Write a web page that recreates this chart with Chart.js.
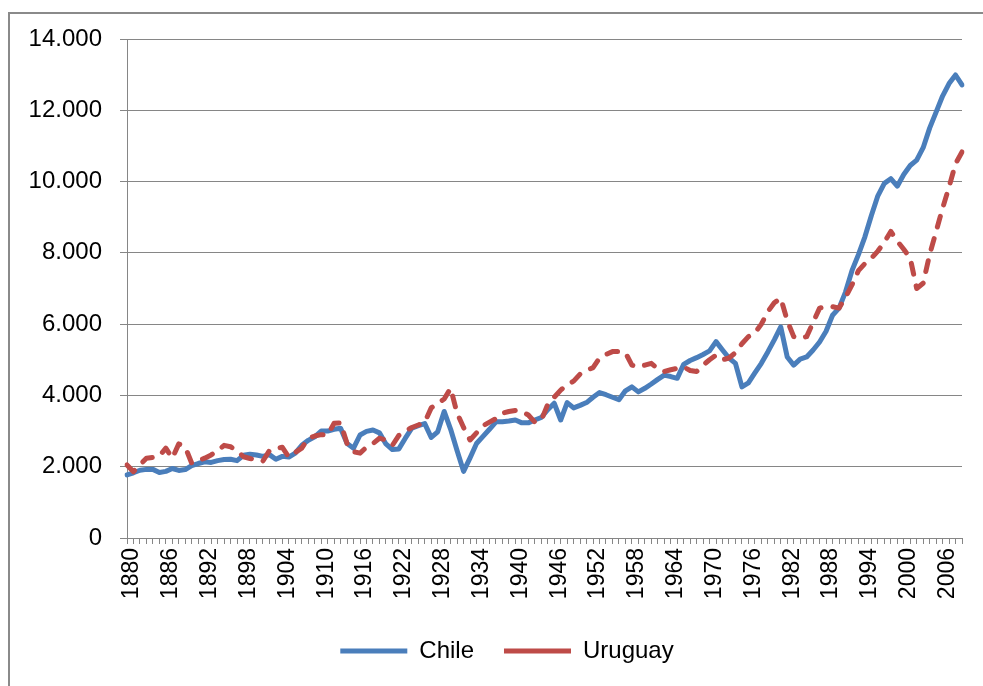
<!DOCTYPE html>
<html>
<head>
<meta charset="utf-8">
<script src="https://cdn.jsdelivr.net/npm/chart.js@4"></script>
<style>
  html, body { margin: 0; padding: 0; background: #fff; overflow: hidden; }
  #wrap { position: relative; width: 983px; height: 686px; }
  #frame { position: absolute; left: 8px; top: 12px; width: 1000px; height: 700px;
           border-left: 2px solid #8a8a8a; border-top: 2px solid #8a8a8a; }
  #chart { position: absolute; left: 0; top: 0; }
</style>
</head>
<body>
<div id="wrap">
  <div id="frame"></div>
  <canvas id="chart" width="983" height="686"></canvas>
</div>
<script>
// years 1880 - 2009
const years = [];
for (let y = 1880; y <= 2009; y++) years.push(String(y));

const chile = [
  1770, 1830, 1900, 1925, 1925, 1840, 1870, 1950, 1895, 1920,
  2030, 2090, 2140, 2120, 2170, 2200, 2210, 2170, 2320, 2350,
  2330, 2290, 2340, 2210, 2290, 2270, 2380, 2600, 2740, 2840,
  3000, 3000, 3050, 3080, 2650, 2520, 2890, 2990, 3030, 2950,
  2640, 2480, 2500, 2800, 3080, 3150, 3210, 2820, 2980, 3550,
  3050, 2450, 1870, 2250, 2650, 2850, 3050, 3260, 3260, 3280,
  3310, 3230, 3230, 3310, 3380, 3600, 3780, 3310, 3800, 3650,
  3720, 3800, 3950, 4080, 4020, 3950, 3880, 4130, 4240, 4100,
  4200, 4320, 4450, 4570, 4530, 4480, 4870, 4980, 5060, 5150,
  5250, 5510, 5275, 5050, 4900, 4240, 4350, 4630, 4900, 5220,
  5560, 5920, 5080, 4850, 5020, 5080, 5275, 5500, 5800, 6250,
  6450, 6900, 7500, 7950, 8450, 9050, 9600, 9950, 10080, 9870,
  10200, 10450, 10600, 10950, 11500, 11950, 12400, 12750, 12990, 12710
];

const uruguay = [
  2050, 1860, 2050, 2240, 2260, 2300, 2520, 2240, 2640, 2550,
  2100, 2170, 2240, 2330, 2450, 2600, 2560, 2450, 2280, 2230,
  2190, 2160, 2450, 2510, 2545, 2270, 2400, 2520, 2800, 2860,
  2900, 2890, 3220, 3230, 2650, 2420, 2380, 2550, 2650, 2800,
  2750, 2600, 2880, 3000, 3100, 3170, 3250, 3650, 3780, 3900,
  4200, 3500, 3100, 2750, 2950, 3150, 3250, 3350, 3500, 3550,
  3580, 3550, 3450, 3250, 3300, 3750, 3950, 4150, 4300, 4400,
  4600, 4700, 4780, 5050, 5150, 5230, 5230, 5200, 4850, 4800,
  4850, 4900, 4750, 4670, 4720, 4760, 4800, 4700, 4670, 4850,
  5000, 5130, 5000, 5050, 5200, 5450, 5650, 5750, 6000, 6350,
  6600, 6730, 6100, 5650, 5600, 5650, 6050, 6450, 6490, 6490,
  6450, 6750, 7100, 7500, 7700, 7850, 8050, 8300, 8600, 8330,
  8100, 7850, 7000, 7150, 7950, 8600, 9250, 9850, 10500, 10830
];

const FONT = "'Liberation Sans', Arial, sans-serif";
const GRID = '#868686';

// 14000 -> "14.000"
function miles(v) {
  return v === 0 ? '0' : String(v).replace(/\B(?=(\d{3})+(?!\d))/g, '.');
}

// nudge the legend to the right so it sits where the original one is
const shiftLegend = {
  id: 'shiftLegend',
  afterLayout(chart) {
    chart.legend.left += 26;
    chart.legend.right += 26;
  }
};

new Chart(document.getElementById('chart'), {
  type: 'line',
  data: {
    labels: years,
    datasets: [
      {
        label: 'Chile',
        data: chile,
        borderColor: '#4a7ebb',
        backgroundColor: '#4a7ebb',
        borderWidth: 5,
        pointRadius: 0,
        tension: 0,
        borderJoinStyle: 'round',
        borderCapStyle: 'round',
        order: 1
      },
      {
        label: 'Uruguay',
        data: uruguay,
        borderColor: '#be4b48',
        backgroundColor: '#be4b48',
        borderWidth: 5,
        borderDash: [11, 12],
        pointRadius: 0,
        tension: 0,
        borderJoinStyle: 'round',
        borderCapStyle: 'round',
        order: 0
      }
    ]
  },
  plugins: [shiftLegend],
  options: {
    responsive: false,
    animation: false,
    layout: { padding: { left: 0, right: 21, top: 39, bottom: 13 } },
    plugins: {
      legend: {
        position: 'bottom',
        labels: {
          usePointStyle: true,
          pointStyle: 'line',
          pointStyleWidth: 67,
          padding: 30,
          color: '#000',
          font: { family: FONT, size: 24 },
          sort: (a, b) => a.datasetIndex - b.datasetIndex
        }
      },
      tooltip: { enabled: false }
    },
    scales: {
      x: {
        offset: false,
        grid: { drawOnChartArea: false, drawTicks: true, tickLength: 6, color: GRID },
        border: { color: GRID },
        ticks: {
          autoSkip: false,
          minRotation: 90,
          maxRotation: 90,
          padding: 4,
          labelOffset: 5,
          color: '#000',
          font: { family: FONT, size: 23 },
          callback: function (v, i) { return i % 6 === 0 ? this.getLabelForValue(v) : ''; }
        },
        afterFit: s => { s.height = 71; s.paddingLeft = 0; s.paddingRight = 0; }
      },
      y: {
        min: 0,
        max: 14000,
        grid: { color: GRID, tickLength: 7 },
        border: { color: GRID },
        ticks: {
          stepSize: 2000,
          padding: 18,
          color: '#000',
          font: { family: FONT, size: 24 },
          callback: v => miles(v)
        },
        afterFit: s => { s.width = 127; }
      }
    }
  }
});
</script>
</body>
</html>
